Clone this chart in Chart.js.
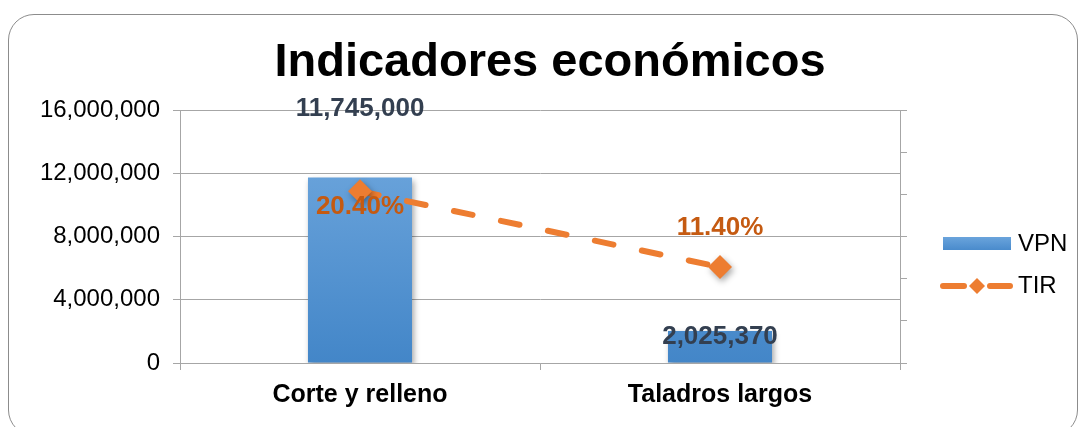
<!DOCTYPE html>
<html>
<head>
<meta charset="utf-8" />
<title>Indicadores económicos</title>
<script src="https://cdn.jsdelivr.net/npm/chart.js@4.4.1/dist/chart.umd.min.js"></script>
<style>
  html, body { margin: 0; padding: 0; background: #fff; overflow: hidden; }
  #wrap { position: relative; width: 1080px; height: 427px; }
  #frame { position: absolute; left: 8px; top: 14px; width: 1068px; height: 420px;
           border: 1px solid #8c8c8c; border-radius: 26px; pointer-events: none; }
</style>
</head>
<body>
<div id="wrap">
  <canvas id="chart" width="1080" height="427"></canvas>
  <div id="frame"></div>
</div>
<script>
// data
const categories = ["Corte y relleno", "Taladros largos"];
const vpn = [11745000, 2025370];
const tir = [0.204, 0.114];
const vpnTicks = [0, 4000000, 8000000, 12000000, 16000000];
const tirTicks = [0, 0.05, 0.10, 0.15, 0.20, 0.25, 0.30];

const FONT = "'Liberation Sans', Arial, sans-serif";
const gridColor = "#a6a6a6";
const orange = "#ed7d31";

Chart.defaults.font.family = FONT;

function barFill(c, area) {
    const g = c.createLinearGradient(0, area.top, 0, area.bottom);
    g.addColorStop(0, "#74abe0");
    g.addColorStop(1, "#4386c8");
    return g;
}

// soft drop shadow for datasets flagged with shadow: true
const shadowPlugin = {
    id: "shadow",
    beforeDatasetDraw(chart, args) {
        if (!chart.data.datasets[args.index].shadow) return;
        const c = chart.ctx;
        c.save();
        c.shadowColor = "rgba(0,0,0,0.35)";
        c.shadowBlur = 6;
        c.shadowOffsetX = 2;
        c.shadowOffsetY = 3;
    },
    afterDatasetDraw(chart, args) {
        if (chart.data.datasets[args.index].shadow) chart.ctx.restore();
    }
};

// value labels, placed like the original (manually moved in the source chart)
const labelPlugin = {
    id: "valueLabels",
    afterDatasetsDraw(chart, args, opts) {
        const c = chart.ctx;
        c.save();
        c.font = "bold 26px " + FONT;
        c.textAlign = "center";
        c.textBaseline = "middle";
        chart.getDatasetMeta(0).data.forEach((bar, i) => {
            c.fillStyle = "#333f50";
            c.fillText(vpn[i].toLocaleString("en-US"), bar.x, bar.y + opts.vpnShift[i]);
        });
        chart.getDatasetMeta(2).data.forEach((pt, i) => {
            c.fillStyle = "#c55a11";
            c.fillText((tir[i] * 100).toFixed(2) + "%", pt.x, pt.y + opts.tirShift[i]);
        });
        c.restore();
    }
};

// legend on the right, Excel style
const legendPlugin = {
    id: "sideLegend",
    afterDraw(chart) {
        const c = chart.ctx;
        const a = chart.chartArea;
        const x0 = a.right + 43;
        c.save();
        // VPN
        const g = c.createLinearGradient(0, 237, 0, 250);
        g.addColorStop(0, "#6aa4dc");
        g.addColorStop(1, "#4a8bcc");
        c.fillStyle = g;
        c.fillRect(x0, 237, 68, 13);
        c.fillStyle = "#000";
        c.font = "24px " + FONT;
        c.textBaseline = "middle";
        c.fillText(chart.data.datasets[0].label, x0 + 75, 244);
        // TIR
        const y = 286;
        c.strokeStyle = orange;
        c.lineWidth = 6;
        c.lineCap = "round";
        c.beginPath();
        c.moveTo(x0, y); c.lineTo(x0 + 21, y);
        c.moveTo(x0 + 47, y); c.lineTo(x0 + 67, y);
        c.stroke();
        c.fillStyle = orange;
        c.beginPath();
        c.moveTo(x0 + 34, y - 8); c.lineTo(x0 + 42, y);
        c.lineTo(x0 + 34, y + 8); c.lineTo(x0 + 26, y);
        c.closePath();
        c.fill();
        c.fillStyle = "#000";
        c.fillText(chart.data.datasets[1].label, x0 + 75, y);
        c.restore();
    }
};

new Chart(document.getElementById("chart"), {
    data: {
        labels: categories,
        datasets: [
            {
                type: "bar",
                label: "VPN",
                data: vpn,
                yAxisID: "y",
                order: 3,
                shadow: true,
                backgroundColor: ctx => {
                    const area = ctx.chart.chartArea;
                    if (!area) return "#5b9bd5";
                    return barFill(ctx.chart.ctx, area);
                },
                borderWidth: 0,
                barPercentage: 0.289,
                categoryPercentage: 1
            },
            {
                type: "line",
                label: "TIR",
                data: tir,
                yAxisID: "y2",
                order: 2,
                borderColor: orange,
                borderWidth: 6,
                borderDash: [19, 29],
                borderCapStyle: "round",
                pointRadius: 0,
                fill: false,
                tension: 0
            },
            {
                type: "line",
                label: "TIR",
                data: tir,
                yAxisID: "y2",
                order: 1,
                shadow: true,
                showLine: false,
                pointStyle: "rectRot",
                pointRadius: 12,
                pointBackgroundColor: orange,
                pointBorderColor: orange,
                pointBorderWidth: 0
            }
        ]
    },
    options: {
        responsive: false,
        animation: false,
        devicePixelRatio: 1,
        layout: { padding: { left: 20, right: 0, top: 0, bottom: 0 } },
        plugins: {
            legend: { display: false },
            tooltip: { enabled: false },
            title: {
                display: true,
                text: "Indicadores económicos",
                color: "#000",
                font: { size: 47, weight: "bold", family: FONT },
                padding: { top: 35, bottom: 19 }
            },
            valueLabels: { vpnShift: [-69, 6], tirShift: [16, -39] }
        },
        scales: {
            x: {
                grid: { display: true, drawOnChartArea: false, drawTicks: true, tickLength: 7, color: gridColor, offset: true },
                border: { display: true, color: gridColor },
                ticks: { color: "#000", font: { size: 25, weight: "bold" }, padding: 10 },
                afterFit: s => { s.height = 64; }
            },
            y: {
                position: "left",
                min: 0,
                max: vpnTicks[vpnTicks.length - 1],
                afterBuildTicks: s => { s.ticks = vpnTicks.map(v => ({ value: v })); },
                grid: { color: gridColor, tickLength: 7 },
                border: { color: gridColor },
                ticks: {
                    color: "#000",
                    font: { size: 24 },
                    padding: 13,
                    callback: v => Number(v).toLocaleString("en-US")
                },
                afterFit: s => { s.width = 160; }
            },
            y2: {
                position: "right",
                min: 0,
                max: tirTicks[tirTicks.length - 1],
                afterBuildTicks: s => { s.ticks = tirTicks.map(v => ({ value: v })); },
                grid: { drawOnChartArea: false, tickLength: 7, color: gridColor },
                border: { color: gridColor },
                ticks: { display: false },
                afterFit: s => { s.width = 180; }
            }
        }
    },
    plugins: [shadowPlugin, labelPlugin, legendPlugin]
});
</script>
</body>
</html>
